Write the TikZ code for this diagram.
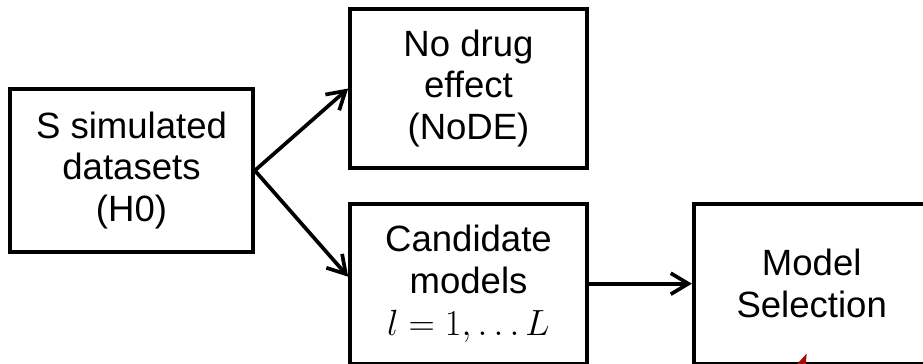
\documentclass[tikz,border=0pt]{standalone}
\usepackage{fontspec}
\setmainfont{Liberation Sans}
\usetikzlibrary{positioning,arrows.meta}
\definecolor{WedgeRed}{RGB}{170,10,10}
\tikzset{
  box/.style={rectangle, draw=black, line width=2.1pt, fill=white, align=center,
    minimum width=4.74cm, minimum height=3.2cm, inner sep=0pt,
    font=\fontsize{20.8}{23.8}\selectfont},
  arrow/.style={-{Straight Barb[length=3.5mm,width=4.2mm]}, line width=2.1pt}
}

\begin{document}
\begin{tikzpicture}[node distance=0.64cm and 2.06cm]
  \useasboundingbox (0,0) rectangle (18.46,-7.26);
  \node[box, minimum width=4.86cm, minimum height=3.26cm] (sim) at (2.63,-3.41) {S simulated\\datasets\\(H0)};
  \node[box, minimum height=3.18cm] (nodrug) at (9.37,-1.77) {No drug\\effect\\(NoDE)};
  \node[box, below=of nodrug] (cand) {Candidate\\models\\$l = 1, \ldots L$};
  \node[box, minimum width=4.72cm, right=of cand] (modsel) {Model\\Selection};
  \draw[arrow] (sim.east) -- (nodrug.west);
  \draw[arrow] (sim.east) -- ([yshift=0.14cm]cand.west);
  \draw[arrow] (cand) -- (modsel);
  % small red mark on the lower edge
  \fill[WedgeRed] ([xshift=-0.32cm]modsel.south) -- ([xshift=-0.1cm,yshift=0.24cm]modsel.south) -- ([xshift=-0.12cm]modsel.south) -- cycle;
\end{tikzpicture}
\end{document}
